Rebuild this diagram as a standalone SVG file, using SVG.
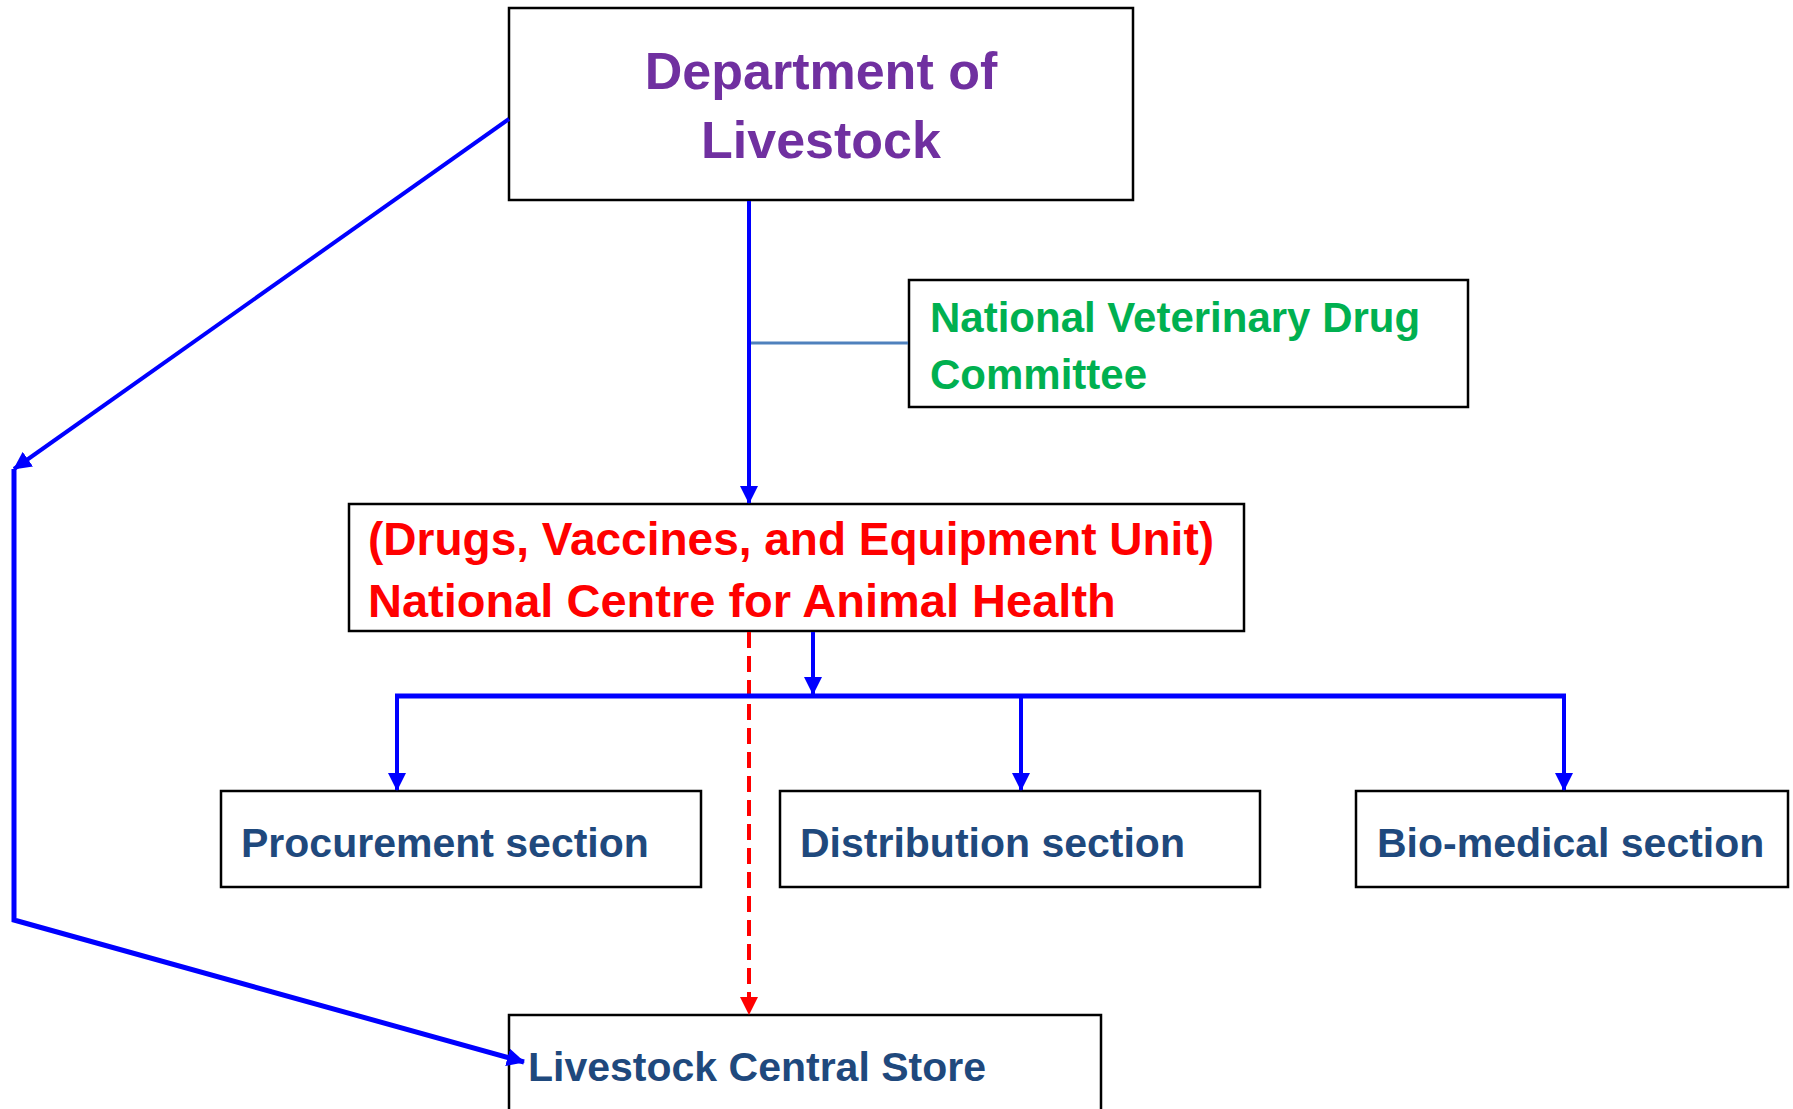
<svg xmlns="http://www.w3.org/2000/svg" width="1793" height="1109" viewBox="0 0 1793 1109">
  <style>
    .box { fill: #ffffff; stroke: #000000; stroke-width: 2.5; }
    .t { font-family: "Liberation Sans", Arial, sans-serif; font-weight: bold; }
    .purple { fill: #7030A0; }
    .green { fill: #00B050; }
    .red { fill: #FF0000; }
    .navy { fill: #1F497D; }
    .blue { stroke: #0000FF; stroke-width: 4; fill: none; }
  </style>
  <defs>
    <marker id="ab" markerUnits="userSpaceOnUse" markerWidth="18" markerHeight="18" refX="17" refY="9" orient="auto">
      <path d="M0,0 L18,9 L0,18 z" fill="#0000FF"/>
    </marker>
    <marker id="ar" markerUnits="userSpaceOnUse" markerWidth="18" markerHeight="18" refX="17" refY="9" orient="auto">
      <path d="M0,0 L18,9 L0,18 z" fill="#FF0000"/>
    </marker>
  </defs>
  <rect width="1793" height="1109" fill="#ffffff"/>

  <g id="dept">
    <rect x="509" y="8" width="624" height="192" class="box"/>
    <text class="t purple" font-size="52" text-anchor="middle"><tspan x="821" y="89">Department of</tspan><tspan x="821" y="158">Livestock</tspan></text>
  </g>

  <g id="nvdc">
    <rect x="909" y="280" width="559" height="127" class="box"/>
    <text class="t green" font-size="42"><tspan x="930" y="332">National Veterinary Drug</tspan><tspan x="930" y="389">Committee</tspan></text>
  </g>

  <g id="ncah">
    <rect x="349" y="504" width="895" height="127" class="box"/>
    <text class="t red" font-size="46"><tspan x="368" y="555">(Drugs, Vaccines, and Equipment Unit)</tspan><tspan x="368" y="617" font-size="47">National Centre for Animal Health</tspan></text>
  </g>

  <g id="procurement">
    <rect x="221" y="791" width="480" height="96" class="box"/>
    <text x="241" y="857" class="t navy" font-size="41">Procurement section</text>
  </g>

  <g id="distribution">
    <rect x="780" y="791" width="480" height="96" class="box"/>
    <text x="800" y="857" class="t navy" font-size="41">Distribution section</text>
  </g>

  <g id="biomedical">
    <rect x="1356" y="791" width="432" height="96" class="box"/>
    <text x="1377" y="857" class="t navy" font-size="41">Bio-medical section</text>
  </g>

  <g id="store">
    <rect x="509" y="1015" width="592" height="120" class="box"/>
    <text x="528" y="1081" class="t navy" font-size="41">Livestock Central Store</text>
  </g>

  <g id="connectors">
    <line x1="749" y1="201" x2="749" y2="503" class="blue" marker-end="url(#ab)"/>
    <line x1="751" y1="343" x2="908" y2="343" stroke="#4F81BD" stroke-width="3"/>
    <line x1="509" y1="119" x2="14" y2="469" class="blue" marker-end="url(#ab)"/>
    <polyline points="14,469 14,920 524,1062" stroke="#0000FF" stroke-width="5" fill="none" marker-end="url(#ab)"/>
    <line x1="749" y1="632" x2="749" y2="1014" stroke="#FF0000" stroke-width="4" stroke-dasharray="16 8" marker-end="url(#ar)"/>
    <line x1="813" y1="632" x2="813" y2="694" class="blue" marker-end="url(#ab)"/>
    <line x1="395" y1="696" x2="1566" y2="696" stroke="#0000FF" stroke-width="5"/>
    <line x1="397" y1="696" x2="397" y2="790" class="blue" marker-end="url(#ab)"/>
    <line x1="1021" y1="696" x2="1021" y2="790" class="blue" marker-end="url(#ab)"/>
    <line x1="1564" y1="696" x2="1564" y2="790" class="blue" marker-end="url(#ab)"/>
  </g>
</svg>
